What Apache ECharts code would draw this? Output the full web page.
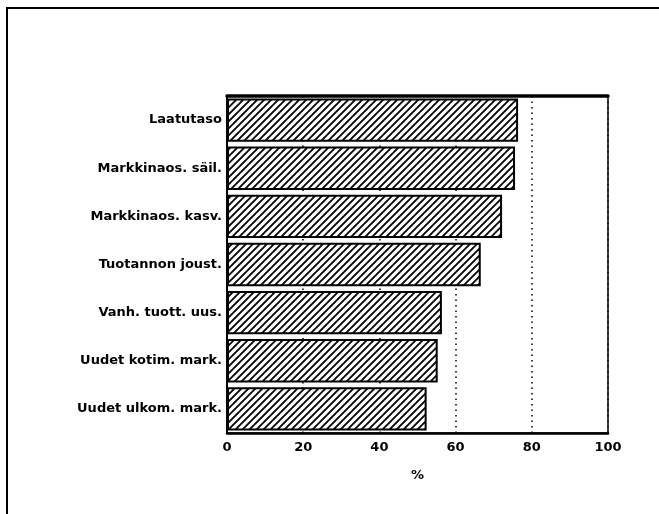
<!DOCTYPE html>
<html>
<head>
<meta charset="utf-8">
<script src="https://cdn.jsdelivr.net/npm/echarts@6/dist/echarts.min.js"></script>
<style>html,body{margin:0;padding:0;background:#fff;}#c{width:659px;height:514px;}</style>
</head>
<body>
<div id="c"></div>
<script>
var categories = ['Laatutaso', 'Markkinaos. säil.', 'Markkinaos. kasv.', 'Tuotannon joust.', 'Vanh. tuott. uus.', 'Uudet kotim. mark.', 'Uudet ulkom. mark.'];
var values = [76.4, 75.6, 72.2, 66.6, 56.4, 55.3, 52.4];
var tickValues = [0, 20, 40, 60, 80, 100];

var T = 7;
var tile = document.createElement('canvas');
tile.width = T; tile.height = T;
var g = tile.getContext('2d');
g.fillStyle = '#fff'; g.fillRect(0, 0, T, T);
g.strokeStyle = '#000'; g.lineWidth = 1.8;
g.beginPath();
g.moveTo(-1, T + 1); g.lineTo(T + 1, -1);
g.moveTo(-T - 1, T + 1); g.lineTo(1, -1);
g.moveTo(-1, 2 * T + 1); g.lineTo(2 * T + 1, -1);
g.stroke();

var font = '"DejaVu Sans", Verdana, sans-serif';
var chart = echarts.init(document.getElementById('c'));
chart.setOption({
  animation: false,
  backgroundColor: '#fff',
  grid: { left: 227, right: 51, top: 96, bottom: 81, show: true, borderColor: '#000', borderWidth: 1.5 },
  xAxis: [{
    type: 'value', min: 0, max: 100, interval: 20,
    name: '%', nameLocation: 'middle', nameGap: 36,
    nameTextStyle: { color: '#000', fontWeight: 'bold', fontSize: 13, fontFamily: font },
    axisLine: { show: true, lineStyle: { color: '#000', width: 2.5 } },
    axisTick: { show: false },
    axisLabel: { color: '#000', fontWeight: 'bold', fontSize: 13, fontFamily: font, margin: 8,
      formatter: function (v) { return tickValues.indexOf(v) >= 0 ? String(v) : ''; } },
    splitLine: { show: true, lineStyle: { color: '#000', type: [1.5, 4], width: 1.5 } }
  }, {
    type: 'value', min: 0, max: 100, position: 'top',
    axisLine: { show: true, lineStyle: { color: '#000', width: 3.5 } },
    axisTick: { show: false }, axisLabel: { show: false }, splitLine: { show: false }
  }],
  yAxis: {
    type: 'category', data: categories, inverse: true,
    axisLine: { show: true, lineStyle: { color: '#000', width: 2 } },
    axisTick: { show: false },
    axisLabel: { color: '#000', fontWeight: 'bold', fontSize: 13, fontFamily: font, margin: 5 }
  },
  series: [{
    type: 'bar', data: values, barCategoryGap: '10%', xAxisIndex: 0,
    itemStyle: { color: { image: tile, repeat: 'repeat' }, borderColor: '#000', borderWidth: 2 }
  }],
  graphic: [{
    type: 'rect', silent: true,
    shape: { x: 7, y: 8, width: 700, height: 600 },
    style: { fill: 'none', stroke: '#000', lineWidth: 2 }
  }]
});
</script>
</body>
</html>
